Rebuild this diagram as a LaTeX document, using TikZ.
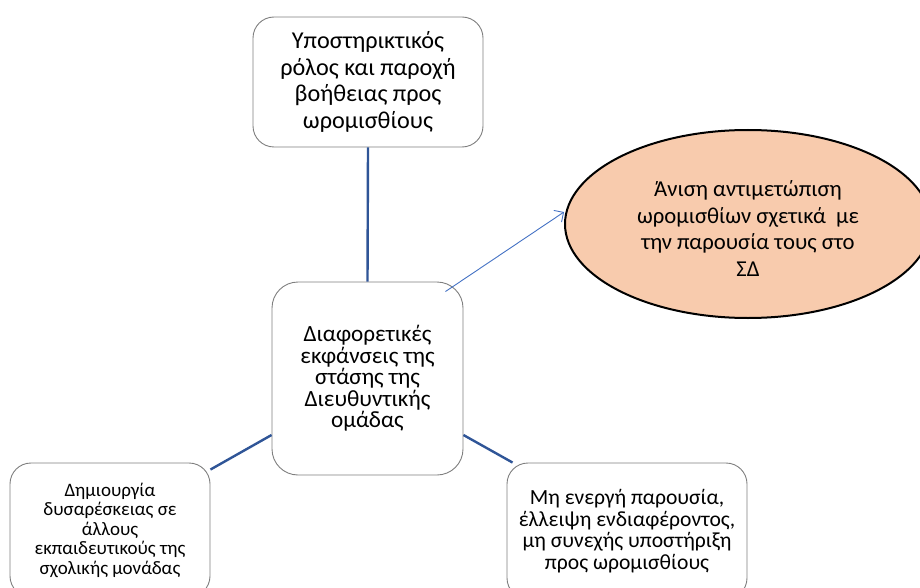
\documentclass[tikz,border=0pt]{standalone}
\usepackage{fontspec}
\setmainfont{Carlito}
\usetikzlibrary{arrows.meta,shapes.geometric}
\definecolor{linkblue}{HTML}{2F5597}
\definecolor{arrowblue}{HTML}{4472C4}
\definecolor{boxgray}{HTML}{7F7F7F}
\definecolor{peach}{HTML}{F8CBAD}
\begin{document}
\begin{tikzpicture}[x=1pt,y=-1pt,
  box/.style={draw=boxgray, line width=0.9pt, rounded corners=21pt, fill=white,
              inner sep=0pt, align=center},
  link/.style={draw=linkblue, line width=2.4pt},
  pointer/.style={draw=arrowblue, line width=0.9pt,
                  -{Straight Barb[length=7pt,width=14pt,line width=0.9pt]}}
]
\useasboundingbox (0,0) rectangle (920,588);
\clip (0,0) rectangle (920,588);

% outer ellipse (partly beyond the right edge) and its text
\node[ellipse, draw=black, line width=2pt, fill=peach, inner sep=0pt,
      minimum width=366pt, minimum height=188pt] (ell) at (748,224) {};
\node[align=center, inner sep=0pt,
      font=\fontsize{22.7}{26.7}\selectfont] (ellt) at (748,228.5)
  {Άνιση αντιμετώπιση\\ωρομισθίων σχετικά\ \ με\\την παρουσία τους στο\\ΣΔ};

% boxes
\node[box, minimum width=230pt, minimum height=130pt,
      font=\fontsize{24.2}{26.7}\selectfont] (top) at (368,82)
  {Υποστηρικτικός\\ρόλος και παροχή\\βοήθειας προς\\ωρομισθίους};

\node[box, rounded corners=26pt, minimum width=191pt, minimum height=193pt,
      font=\fontsize{23.2}{21.5}\selectfont] (cb) at (367.5,378.5)
  {Διαφορετικές\\εκφάνσεις της\\στάσης της\\Διευθυντικής\\ομάδας};

\node[box, minimum width=200pt, minimum height=134pt,
      font=\fontsize{19}{19.5}\selectfont] (lb) at (110,530)
  {Δημιουργία\\δυσαρέσκειας σε\\άλλους\\εκπαιδευτικούς της\\σχολικής μονάδας};

\node[box, minimum width=240pt, minimum height=136pt,
      font=\fontsize{21.6}{21.7}\selectfont] (rb) at (627,531)
  {Μη ενεργή παρουσία,\\έλλειψη ενδιαφέροντος,\\μη συνεχής υποστήριξη\\προς ωρομισθίους};

% connectors
\draw[link] (top.south) -- (cb.north);
\draw[link] ([yshift=-56.5pt]cb.west) -- ([yshift=-7pt]lb.north east);
\draw[link] ([yshift=-56.5pt]cb.east) -- ([xshift=6pt]rb.north west);
\draw[pointer] ([xshift=-18pt,yshift=-10pt]cb.north east) -- ([yshift=12pt]ell.west);
\end{tikzpicture}
\end{document}
